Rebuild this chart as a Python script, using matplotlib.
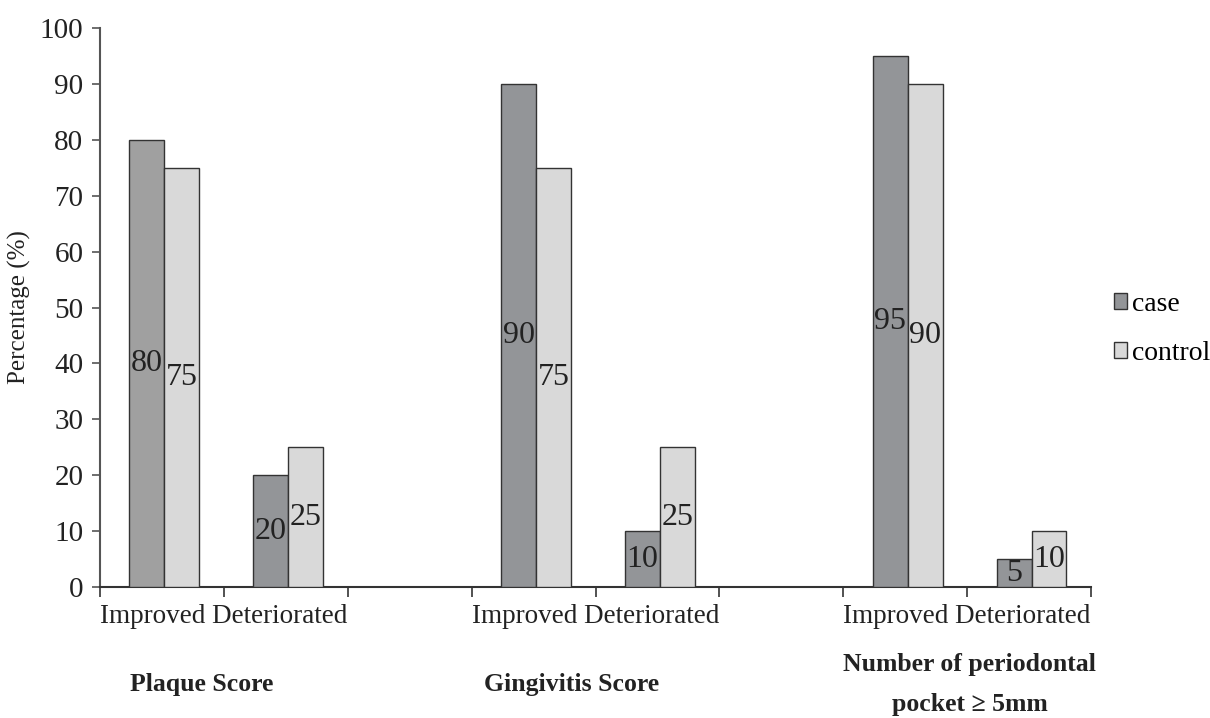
import matplotlib
matplotlib.use("Agg")
import matplotlib.pyplot as plt
from matplotlib.patches import Patch

groups = ["Plaque Score", "Gingivitis Score", "Number of periodontal\npocket \u2265 5mm"]
outcomes = ["Improved", "Deteriorated"]
case = [80, 20, 90, 10, 95, 5]
control = [75, 25, 75, 25, 90, 10]
yticks = list(range(0, 101, 10))

plt.rcParams['font.family'] = ['Liberation Serif', 'DejaVu Serif']

fig = plt.figure(figsize=(12.1, 7.18), dpi=100)
ax = fig.add_axes([100/1210, 131/718, 991/1210, (587-28)/718])

# slot positions: 3 slots per group, the third one empty
pos = []
for g in range(len(groups)):
    for j in range(len(outcomes)):
        pos.append(g*3 + j)

w = 0.282
off = 0.02
case_colors = ['#a0a0a0'] + ['#939598'] * (len(case) - 1)
ax.bar([p - w/2 + off for p in pos], case, width=w, color=case_colors,
       edgecolor='#333333', linewidth=1.0, label='case', zorder=3)
ax.bar([p + w/2 + off for p in pos], control, width=w, color='#d9d9d9',
       edgecolor='#333333', linewidth=1.0, label='control', zorder=3)

for p, v in zip(pos, case):
    ax.text(p - w/2 + off, v/2, str(v), ha='center', va='center', fontsize=23,
            color='#222222', zorder=4)
for p, v in zip(pos, control):
    ax.text(p + w/2 + off, v/2, str(v), ha='center', va='center', fontsize=23,
            color='#222222', zorder=4)

ax.set_xlim(-0.5, 7.5)
ax.set_ylim(0, 100)
ax.set_yticks(yticks)
ax.set_yticklabels([str(t) for t in yticks], fontsize=21, color='#222222')
boundaries = [i + 0.5 for i in range(-1, 8)]
ax.set_xticks(boundaries)
labels = [''] * len(boundaries)
for g in range(len(groups)):
    labels[g*3 + 1] = ' '.join(outcomes)
ax.set_xticklabels(labels, fontsize=19.5, color='#222222')
ax.tick_params(axis='x', length=7, width=1.2, color='#333333', pad=5)
ax.tick_params(axis='y', length=6, width=1.2, color='#555555', pad=6)

for s in ['top', 'right']:
    ax.spines[s].set_visible(False)
ax.spines['left'].set_color('#555555')
ax.spines['left'].set_linewidth(1.5)
ax.spines['bottom'].set_color('#333333')
ax.spines['bottom'].set_linewidth(1.5)

ax.set_ylabel('Percentage (%)', fontsize=18, color='#222222', labelpad=6)

# group titles below
title_x = [0.32, 3.31, 6.52]
for gx, name in zip(title_x, groups):
    ax.text(gx, -17.5, name, ha='center', va='center', fontsize=18.5,
            fontweight='bold', color='#222222', transform=ax.transData,
            linespacing=1.95)

handles = [Patch(facecolor='#939598', edgecolor='#333333'),
           Patch(facecolor='#d9d9d9', edgecolor='#333333')]
fig.legend(handles, ['case', 'control'], loc='center left',
           bbox_to_anchor=(1108/1210, 1 - 329/718), frameon=False,
           fontsize=20, handlelength=0.5, handleheight=0.5,
           handletextpad=0.15, labelspacing=0.85, borderpad=0.2,
           borderaxespad=0)

fig.savefig('out.png', dpi=100)
